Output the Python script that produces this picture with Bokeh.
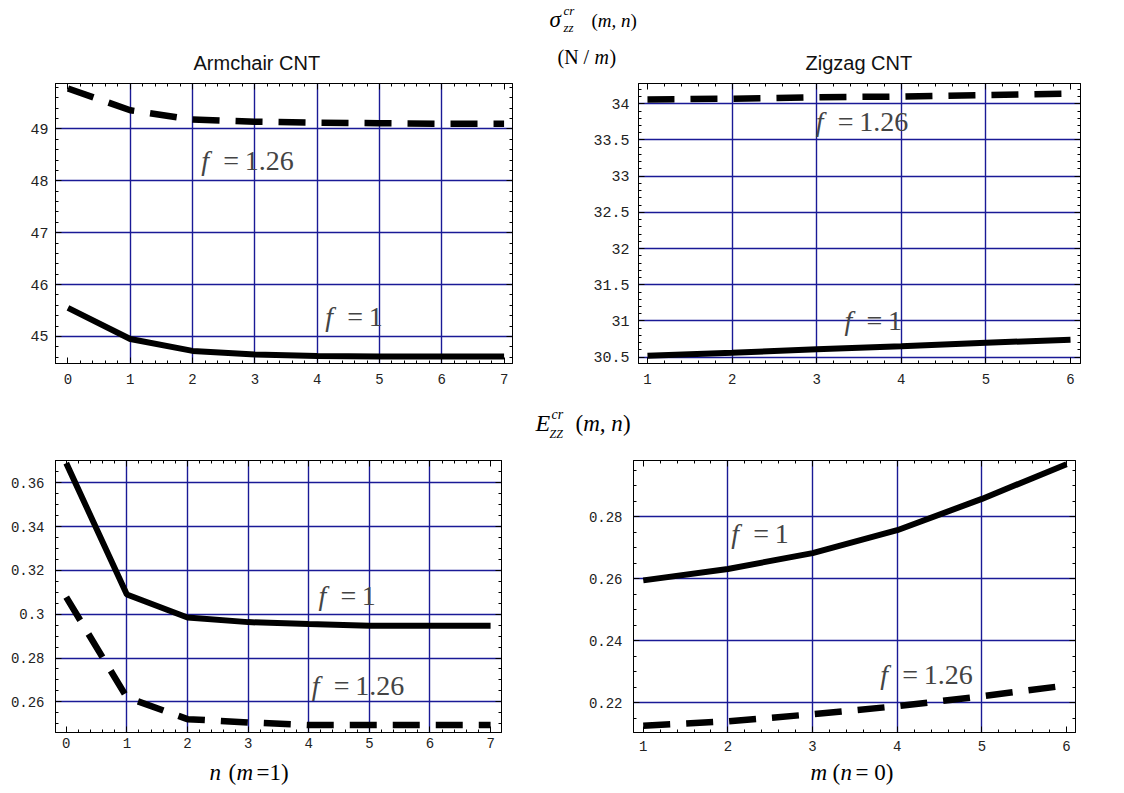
from bokeh.plotting import figure
from bokeh.layouts import column, row
from bokeh.models import Range1d, LinearAxis, FixedTicker, CustomJSTickFormatter, Label
from bokeh.embed import file_html
from bokeh.resources import INLINE
import numpy as np

# ---------------- data ----------------
arm_n = [0, 1, 2, 3, 4, 5, 6, 7]
arm_sigma_f1 = [45.55, 44.95, 44.72, 44.65, 44.62, 44.61, 44.61, 44.61]
arm_sigma_f126 = [49.78, 49.36, 49.18, 49.14, 49.12, 49.11, 49.10, 49.10]

zig_m = [1, 2, 3, 4, 5, 6]
zig_sigma_f1 = [30.52, 30.56, 30.61, 30.65, 30.70, 30.74]
zig_sigma_f126 = [34.06, 34.07, 34.09, 34.10, 34.12, 34.14]

arm_E_f1 = [0.369, 0.309, 0.2985, 0.2964, 0.2955, 0.2948, 0.2948, 0.2948]
arm_E_f126 = [0.3078, 0.2620, 0.2521, 0.2506, 0.2494, 0.2494, 0.2494, 0.2494]

zig_E_f1 = [0.2595, 0.2632, 0.2683, 0.2757, 0.2858, 0.2970]
zig_E_f126 = [0.2126, 0.2140, 0.2163, 0.2189, 0.2221, 0.2256]

# tick labels
arm_xticks = [0, 1, 2, 3, 4, 5, 6, 7]
zig_xticks = [1, 2, 3, 4, 5, 6]
tl_yticks = [45, 46, 47, 48, 49]
tr_yticks = [30.5, 31, 31.5, 32, 32.5, 33, 33.5, 34]
bl_yticks = [0.26, 0.28, 0.3, 0.32, 0.34, 0.36]
br_yticks = [0.22, 0.24, 0.26, 0.28]

titles = ["Armchair CNT", "Zigzag CNT"]

GRID = "#1a1a96"
W = 1116
LIFT = 0.3  # baseline correction, as a fraction of the font size


def minors(a, b, step):
    return [float(v) for v in np.round(np.arange(a, b + step / 2, step), 4)]


def style_axis(ax, ticks, minor, show, size, standoff):
    ax.ticker = FixedTicker(ticks=ticks, minor_ticks=minor)
    ax.formatter = CustomJSTickFormatter(code="return tick.toString();")
    ax.major_tick_in = 6
    ax.major_tick_out = 0
    ax.minor_tick_in = 3
    ax.minor_tick_out = 0
    ax.axis_line_color = "black"
    ax.axis_line_width = 1
    ax.major_tick_line_color = "black"
    ax.minor_tick_line_color = "black"
    ax.major_label_text_font = "Liberation Mono"
    ax.major_label_text_color = "#222222"
    ax.major_label_standoff = standoff
    if show:
        ax.major_label_text_font_size = size
    else:
        ax.major_label_text_font_size = "0px"
        ax.major_label_text_alpha = 0
        ax.major_label_standoff = 0


def panel(w, h, bl, br, bt, bb, xr, yr, xt, xmin, yt, ymin, xg, yg, xsize, ysize, xstand, ystand):
    p = figure(width=w, height=h, x_range=Range1d(*xr), y_range=Range1d(*yr),
               toolbar_location=None, output_backend="svg",
               min_border_left=bl, min_border_right=br, min_border_top=bt, min_border_bottom=bb)
    p.outline_line_color = "black"
    p.outline_line_width = 1
    p.background_fill_color = "white"
    p.border_fill_color = "white"
    top = LinearAxis()
    right = LinearAxis()
    p.add_layout(top, "above")
    p.add_layout(right, "right")
    style_axis(p.below[0], xt, xmin, True, xsize, xstand)
    style_axis(top, xt, xmin, False, xsize, 0)
    style_axis(p.left[0], yt, ymin, True, ysize, ystand)
    style_axis(right, yt, ymin, False, ysize, 0)
    p.xgrid.ticker = FixedTicker(ticks=xg)
    p.ygrid.ticker = FixedTicker(ticks=yg)
    for g in (p.xgrid[0], p.ygrid[0]):
        g.grid_line_color = GRID
        g.grid_line_width = 1.4
    return p


def strip(h, top):
    # a text-only band whose data units are picture pixels
    s = figure(width=W, height=h, x_range=Range1d(0, W), y_range=Range1d(top + h, top),
               toolbar_location=None, output_backend="svg", x_axis_type=None, y_axis_type=None,
               min_border=0)
    s.outline_line_color = None
    s.background_fill_color = "white"
    s.border_fill_color = "white"
    return s


def txt(s, px, py, t, size, font="Liberation Serif", style="normal", color="black"):
    s.add_layout(Label(x=px, y=py - LIFT * size, text=t, text_font=font, text_font_size=f"{size}px",
                       text_font_style=style, text_color=color,
                       text_baseline="alphabetic", text_align="left"))


def flabel(p, x, y, val, ppu, size=28):
    y = y + LIFT * size / ppu
    p.add_layout(Label(x=x, y=y, text="f", text_font="Liberation Serif", text_font_size=f"{size}px",
                       text_font_style="italic", text_baseline="alphabetic", text_align="left"))
    p.add_layout(Label(x=x, y=y, x_offset=22, text="=\u2009" + val, text_font="Liberation Serif",
                       text_font_size=f"{size}px", text_baseline="alphabetic", text_align="left"))


def curves(p, x, ysolid, ydash):
    p.line(x, ysolid, line_color="black", line_width=6)
    p.line(x, ydash, line_color="black", line_width=6.5, line_dash="27 16")


# ---------------- header band (y 0..76) ----------------
head = strip(76, 0)
txt(head, 193, 68.5, titles[0], 20, font="Liberation Sans", color="#111111")
txt(head, 805, 68.5, titles[1], 20, font="Liberation Sans", color="#111111")
txt(head, 549, 26, "σ", 23, style="italic")
txt(head, 563, 14, "cr", 13, style="italic")
txt(head, 563, 31, "zz", 13, style="italic")
txt(head, 591, 26, "(", 19)
txt(head, 597.3, 26, "m, n", 19, style="italic")
txt(head, 630, 26, ")", 19)
txt(head, 557, 62, "(N / ", 20)
txt(head, 594, 62, "m", 20, style="italic")
txt(head, 609, 62, ")", 20)

# ---------------- top-left: Armchair sigma ----------------
tl_xr = (-0.2, 7.135)
tl_yr = (44.477, 49.876)
tl = panel(525, 319, 55, 13, 7, 28, tl_xr, tl_yr, arm_xticks, minors(-0.2, 7.2, 0.2),
           tl_yticks, minors(44.4, 49.8, 0.2), [1, 2, 3, 4, 5, 6], tl_yticks,
           "14px", "15px", 10, 7)
curves(tl, arm_n, arm_sigma_f1, arm_sigma_f126)
flabel(tl, 2.14, 48.24, "1.26", 52.6)
flabel(tl, 4.13, 45.22, "1", 52.6)

# ---------------- top-right: Zigzag sigma ----------------
tr_xr = (0.894, 6.118)
tr_yr = (30.413, 34.28)
tr = panel(591, 319, 113, 36, 7, 32, tr_xr, tr_yr, zig_xticks, minors(0.8, 6.2, 0.2),
           tr_yticks, minors(30.4, 34.3, 0.1), [2, 3, 4, 5], tr_yticks,
           "14px", "15px", 10, 9)
curves(tr, zig_m, zig_sigma_f1, zig_sigma_f126)
flabel(tr, 2.99, 33.64, "1.26", 72.5)
flabel(tr, 3.33, 30.89, "1", 72.5)

# ---------------- middle band (y 395..448) ----------------
mid = strip(53, 395)
txt(mid, 535, 430, "E", 24, style="italic")
txt(mid, 551, 418, "cr", 14, style="italic")
txt(mid, 549, 437, "ZZ", 12, style="italic")
txt(mid, 575, 430, "(", 23)
txt(mid, 582.7, 430, "m, n", 23, style="italic")
txt(mid, 622.5, 430, ")", 23)

# ---------------- bottom-left: Armchair E ----------------
bl_xr = (-0.177, 7.18)
bl_yr = (0.2460, 0.3702)
bl = panel(525, 309, 55, 24, 12, 21, bl_xr, bl_yr, arm_xticks, minors(-0.2, 7.2, 0.2),
           bl_yticks, minors(0.245, 0.37, 0.005), [1, 2, 3, 4, 5, 6], bl_yticks,
           "14px", "14px", 5, 11)
curves(bl, arm_n, arm_E_f1, arm_E_f126)
flabel(bl, 4.16, 0.3046, "1", 2230)
flabel(bl, 4.05, 0.2639, "1.26", 2230)

# ---------------- bottom-right: Zigzag E ----------------
br_xr = (0.885, 6.106)
br_yr = (0.2104, 0.2982)
br = panel(591, 309, 108, 41, 8, 25, br_xr, br_yr, zig_xticks, minors(0.8, 6.2, 0.2),
           br_yticks, minors(0.21, 0.3, 0.005), [2, 3, 4, 5], br_yticks,
           "14px", "14px", 8, 11)
curves(br, zig_m, zig_E_f1, zig_E_f126)
flabel(br, 2.04, 0.2718, "1", 3140)
flabel(br, 3.80, 0.2266, "1.26", 3140)

# ---------------- footer band (y 757..785) ----------------
foot = strip(28, 757)
txt(foot, 209, 779, "n", 23, style="italic")
txt(foot, 228, 779, "(", 23)
txt(foot, 236, 779, "m", 23, style="italic")
txt(foot, 256, 779, "=1)", 23)
txt(foot, 810, 779, "m", 23, style="italic")
txt(foot, 832, 779, "(", 23)
txt(foot, 840, 779, "n", 23, style="italic")
txt(foot, 855, 779, "= 0)", 23)

layout = column(head, row(tl, tr), mid, row(bl, br), foot)
open("out.html", "w").write(file_html(layout, INLINE))
